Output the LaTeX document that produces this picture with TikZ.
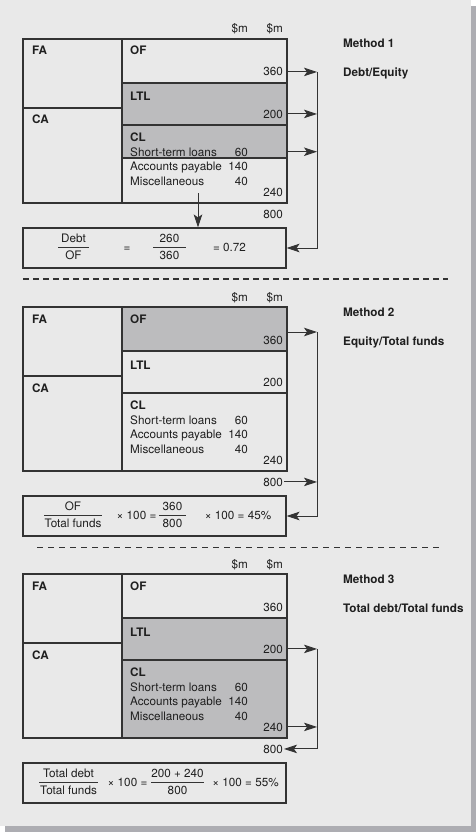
\documentclass[tikz,border=0pt]{standalone}
\usepackage{fontspec}
\setmainfont{TeX Gyre Heros}
\usepackage{xcolor}
\usepackage{tikz}
\usetikzlibrary{positioning,calc,arrows.meta}

\definecolor{panelgray}{HTML}{E9E9E9}
\definecolor{shadowgray}{HTML}{ADADB2}
\definecolor{cellgray}{HTML}{BCBCBE}
\definecolor{linegray}{HTML}{333333}

\tikzset{
  sheet/.style={draw=linegray, line width=1.1pt},
  lbl/.style={anchor=base west, inner xsep=0pt, font=\bfseries},
  item/.style={anchor=base west, inner xsep=0pt},
  amt/.style={anchor=base east, inner xsep=4pt},
  arr/.style={draw=linegray, line width=0.9pt, -{Stealth[length=13pt,width=8.5pt,inset=3pt]}},
  fbox/.style={draw=linegray, line width=1.1pt, minimum width=263pt, minimum height=40pt, inner sep=0pt},
  fpart/.style={anchor=base, inner sep=0pt},
  bar/.style={draw=linegray, line width=0.8pt}
}

\begin{document}
\fontsize{11.7}{14}\selectfont
\begin{tikzpicture}[x=1pt, y=-1pt, text=black!88]
    \useasboundingbox (0,0) rectangle (476,832);

    % Panel with shadow
    \fill[shadowgray] (5,6) rectangle (476,832);
    \fill[panelgray] (0,0) rectangle (471,826);

    % Balance sheets
    \foreach \T/\m/\sa/\sb in {39/1/44/119, 307/2/0/44, 574/3/44/164} {
      \begin{scope}[shift={(0,\T)}]
        \fill[cellgray] (122,\sa) rectangle (287,\sb);
        \draw[sheet] (23,0) rectangle (287,164);
        \draw[sheet] (122,0) -- (122,164);
        \draw[sheet] (23,69) -- (122,69);
        \draw[sheet] (122,44) -- (287,44) (122,86) -- (287,86) (122,\sb) -- (287,\sb);

        % Column heads
        \node[amt] (hda\m) at (252,-6) {\$m};
        \node[amt] (hdb\m) at (287,-6) {\$m};

        % Assets
        \node[lbl] (fa\m) at (32,16) {FA};
        \node[lbl] (ca\m) at (32,85) {CA};

        % Funds
        \node[lbl] (of\m) at (130,16) {OF};
        \node[amt] (ofv\m) at (287,37) {360};
        \node[lbl] (ltl\m) at (130,62) {LTL};
        \node[amt] (ltlv\m) at (287,79) {200};
        \node[lbl] (cl\m) at (130,102) {CL};
        \node[item] (stl\m) at (130,117) {Short-term loans};
        \node[amt] (stlv\m) at (252,117) {60};
        \node[item] (ap\m) at (130,131) {Accounts payable};
        \node[amt] (apv\m) at (252,131) {140};
        \node[item] (misc\m) at (130,146) {Miscellaneous};
        \node[amt] (miscv\m) at (252,146) {40};
        \node[amt] (clv\m) at (287,157) {240};
        \node[amt, inner xsep=1pt] (tot\m) at (284,179) {800};

        % Formula box
        \node[fbox] (fbox\m) at (154.5,209) {};
        \coordinate (spine\m) at (317,0);
      \end{scope}
    }

    % Method 1
    \begin{scope}[shift={(0,39)}]
      \node[lbl] (meth1) at (343,9) {Method 1};
      \node[lbl] (ratio1) at (343,38) {Debt/Equity};
      \node[fpart] (numa1) at (73.5,203) {Debt};
      \node[fpart] (dena1) at (73.5,220) {OF};
      \draw[bar] (58,208.5) -- (89,208.5);
      \node[fpart] (eqa1) at (127,212) {=};
      \node[fpart] (numb1) at (169.5,203) {260};
      \node[fpart] (denb1) at (169.5,220) {360};
      \draw[bar] (153,208.5) -- (186,208.5);
      \node[fpart] (res1) at (229.5,212) {= 0.72};
      \coordinate (drop1) at (198,154);
    \end{scope}
    \draw[arr] (ofv1.east) -- (ofv1.east -| spine1);
    \draw[arr] (ltlv1.east) -- (ltlv1.east -| spine1);
    \draw[arr] (stl1 -| ofv1.east) -- (stl1 -| spine1);
    \draw[arr] (ofv1.east -| spine1) |- (fbox1.east);
    \draw[arr] (drop1) -- (drop1 |- fbox1.north);

    % Separators
    \draw[linegray, line width=1.4pt, dash pattern=on 6pt off 4pt] (23,279) -- (448,279);
    \draw[linegray, line width=0.9pt, dash pattern=on 6pt off 5pt] (37,547) -- (443,547);

    % Method 2
    \begin{scope}[shift={(0,307)}]
      \node[lbl] (meth2) at (343,9) {Method 2};
      \node[lbl] (ratio2) at (343,38) {Equity/Total funds};
      \node[fpart] (numa2) at (73,203) {OF};
      \node[fpart] (dena2) at (73,220) {Total funds};
      \draw[bar] (44,208.5) -- (102,208.5);
      \node[fpart] (eqa2) at (136.5,212) {× 100 =};
      \node[fpart] (numb2) at (172.5,203) {360};
      \node[fpart] (denb2) at (172.5,220) {800};
      \draw[bar] (159,208.5) -- (186,208.5);
      \node[fpart] (res2) at (238,212) {× 100 = 45\%};
      \coordinate (ofr2) at (287,25);
    \end{scope}
    \draw[arr] (ofr2) -- (ofr2 -| spine2);
    \draw[arr] (tot2.east) -- (tot2.east -| spine2);
    \draw[arr] (ofr2 -| spine2) |- (fbox2.east);

    % Method 3
    \begin{scope}[shift={(0,574)}]
      \node[lbl] (meth3) at (343,9) {Method 3};
      \node[lbl] (ratio3) at (343,38) {Total debt/Total funds};
      \node[fpart] (numa3) at (68.5,203) {Total debt};
      \node[fpart] (dena3) at (68.5,220) {Total funds};
      \draw[bar] (39,208.5) -- (98,208.5);
      \node[fpart] (eqa3) at (127.5,212) {× 100 =};
      \node[fpart] (numb3) at (177.5,203) {200 + 240};
      \node[fpart] (denb3) at (177.5,220) {800};
      \draw[bar] (151,208.5) -- (204,208.5);
      \node[fpart] (res3) at (245.5,212) {× 100 = 55\%};
    \end{scope}
    \draw[arr] (ltlv3.east) -- (ltlv3.east -| spine3);
    \draw[arr] (clv3.east) -- (clv3.east -| spine3);
    \draw[arr] (ltlv3.east -| spine3) |- (tot3.east);
\end{tikzpicture}
\end{document}
